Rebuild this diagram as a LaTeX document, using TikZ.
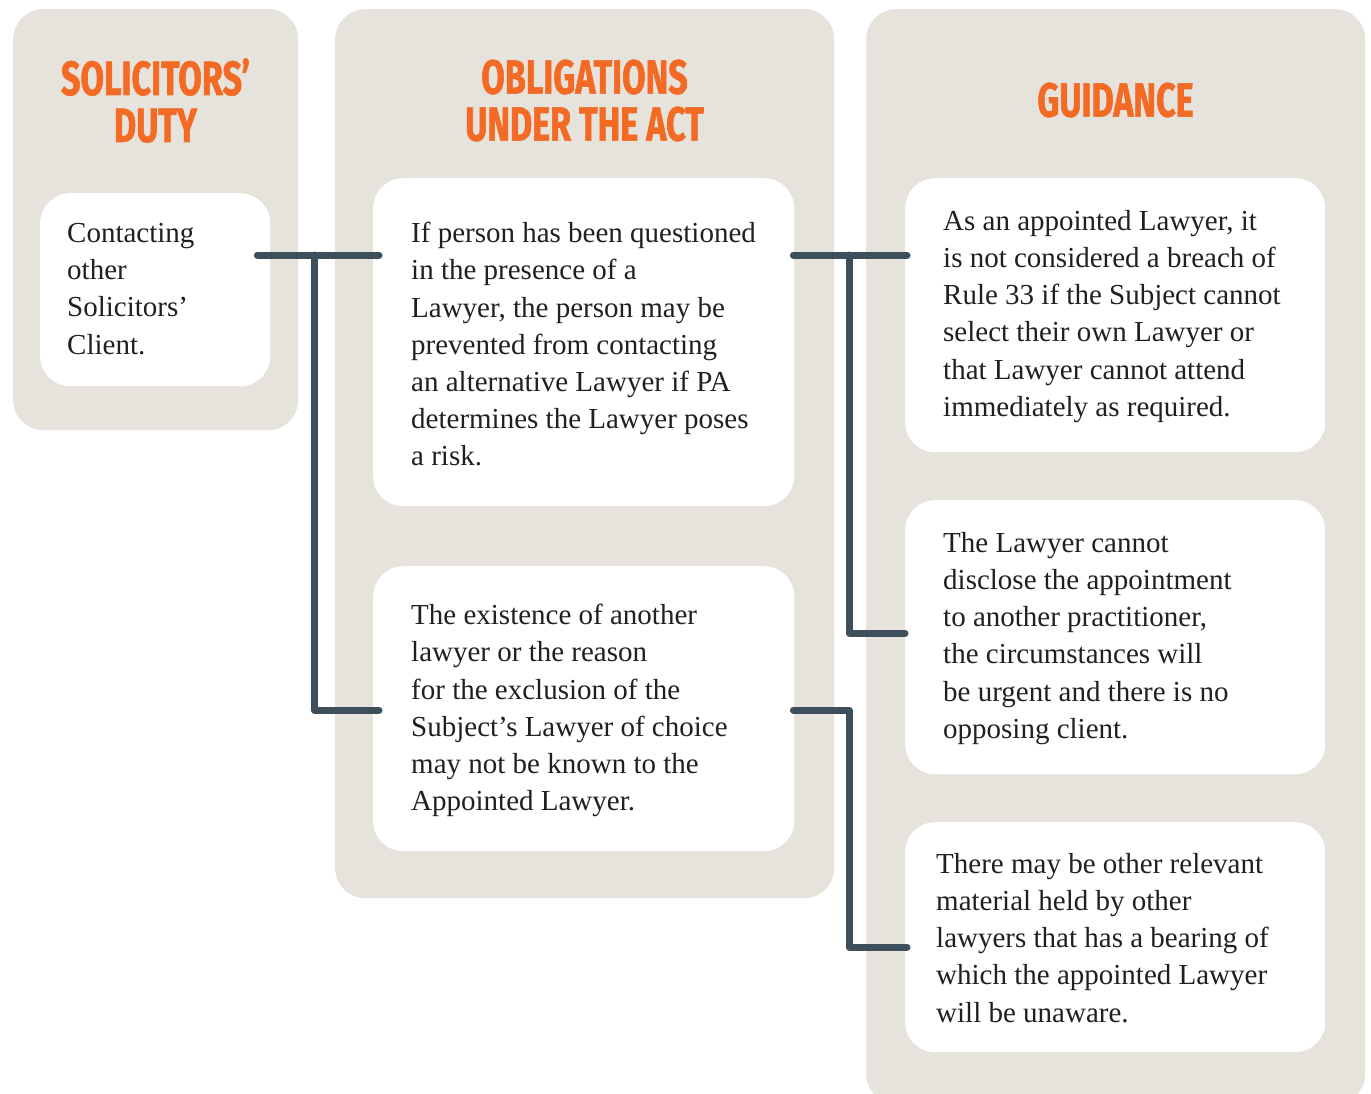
\documentclass[tikz,border=0pt]{standalone}
\usepackage{fontspec}
\setmainfont{Liberation Serif}
\newfontfamily\headfont[FakeStretch=0.71, FakeBold=1.2]{Fira Sans}
\usetikzlibrary{calc}

\definecolor{panelgrey}{HTML}{E6E3DC}
\definecolor{headorange}{HTML}{F26A24}
\definecolor{linkslate}{HTML}{3C4F5A}
\definecolor{bodyink}{HTML}{231F20}

\tikzset{
  panelbox/.style={fill=panelgrey, rounded corners=30pt, anchor=north west, inner sep=0pt},
  card/.style={fill=white, rounded corners=30pt, anchor=north west, inner sep=0pt},
  bodytext/.style={anchor=north west, inner sep=0pt, align=left, text=bodyink,
    font=\fontsize{29}{37.2}\selectfont},
  headtext/.style={align=center, inner sep=0pt, text=headorange,
    font=\headfont\bfseries\fontsize{48}{47}\selectfont},
  link/.style={draw=linkslate, line width=7pt, line cap=round, line join=round},
}

\begin{document}
\begin{tikzpicture}[x=1pt, y=-1pt]
\useasboundingbox (0,0) rectangle (1371,1093);
\begin{scope}
\clip (0,0) rectangle (1371,1093);

% column panels
\node[panelbox, minimum width=285pt, minimum height=421pt] (p1) at (13,9) {};
\node[panelbox, minimum width=499pt, minimum height=889pt] (p2) at (335,9) {};
\node[panelbox, minimum width=499pt, minimum height=1095pt] (p3) at (866,9) {};

% headings
\node[headtext] (h1) at (155.5,100.5) {SOLICITORS’\\DUTY};
\node[headtext] (h2) at (584.5,100.5) {OBLIGATIONS\\UNDER THE ACT};
\node[headtext] (h3) at (1115.5,100) {GUIDANCE};

% white cards
\node[card, minimum width=230pt, minimum height=193pt] (a) at (40,193) {};
\node[card, minimum width=421pt, minimum height=328pt] (b) at (373,178) {};
\node[card, minimum width=421pt, minimum height=285pt] (c) at (373,566) {};
\node[card, minimum width=420pt, minimum height=274pt] (d) at (905,178) {};
\node[card, minimum width=420pt, minimum height=274pt] (e) at (905,500) {};
\node[card, minimum width=420pt, minimum height=230pt] (f) at (905,822) {};

% card texts
\node[bodytext] (at) at (67,223) {Contacting\\other\\Solicitors’\\Client.};
\node[bodytext] (bt) at (411,222) {If person has been questioned\\in the presence of a\\Lawyer, the person may be\\prevented from contacting\\an alternative Lawyer if PA\\determines the Lawyer poses\\a risk.};
\node[bodytext] (ct) at (411,604) {The existence of another\\lawyer or the reason\\for the exclusion of the\\Subject’s Lawyer of choice\\may not be known to the\\Appointed Lawyer.};
\node[bodytext] (dt) at (943,210) {As an appointed Lawyer, it\\is not considered a breach of\\Rule 33 if the Subject cannot\\select their own Lawyer or\\that Lawyer cannot attend\\immediately as required.};
\node[bodytext] (et) at (943,532) {The Lawyer cannot\\disclose the appointment\\to another practitioner,\\the circumstances will\\be urgent and there is no\\opposing client.};
\node[bodytext] (ft) at (936,853) {There may be other relevant\\material held by other\\lawyers that has a bearing of\\which the appointed Lawyer\\will be unaware.};

% connector ports
\coordinate (a-out) at ($(a.north east)+(-13,62)$);
\coordinate (b-in)  at ($(b.north west)+(6,77)$);
\coordinate (c-in)  at ($(c.north west)+(6,144)$);
\coordinate (b-out) at ($(b.north east)+(-1,77)$);
\coordinate (c-out) at ($(c.north east)+(-1,144)$);
\coordinate (d-in)  at ($(d.north west)+(2,77)$);
\coordinate (e-in)  at ($(e.north west)+(0,133)$);
\coordinate (f-in)  at ($(f.north west)+(2,125)$);
\coordinate (j1) at ($(a-out)!0.47!(b-in)$);
\coordinate (j2) at ($(b-out)!0.49!(d-in)$);

% connectors
\draw[link] (a-out) -- (b-in);
\draw[link] (j1) |- (c-in);
\draw[link] (b-out) -- (d-in);
\draw[link] (j2) |- (e-in);
\draw[link] (c-out) -- (c-out -| j2) |- (f-in);
\end{scope}
\end{tikzpicture}
\end{document}
